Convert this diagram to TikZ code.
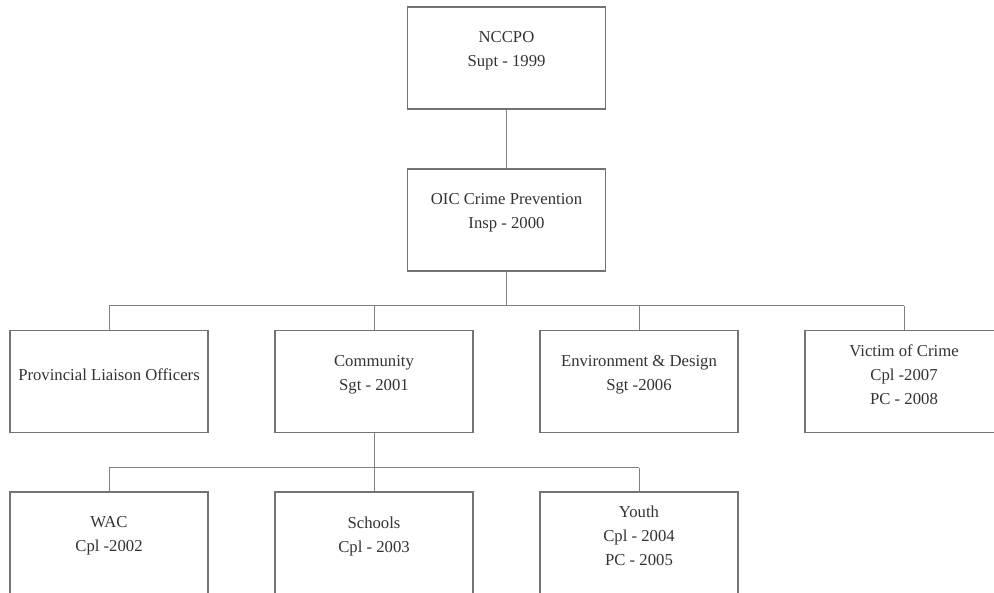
\documentclass[tikz,border=0pt]{standalone}
\usepackage{fontspec}
\setmainfont{Liberation Serif}
\begin{document}
\begin{tikzpicture}[x=1pt,y=-1pt,
  unitbox/.style={draw=black!55, line width=1.1pt, fill=white,
    minimum width=198pt, minimum height=102pt, inner sep=0pt},
  lbl/.style={align=center, text=black!80,
    font=\fontsize{16.7}{24}\selectfont, yshift=7pt},
  link/.style={draw=black!50, line width=1pt}]
\useasboundingbox (0,0) rectangle (994,593);
\begin{scope}
\clip (0,0) rectangle (994,593);

% top of the chain
\node[unitbox, label={[lbl]center:NCCPO\\Supt - 1999}] (nccpo) at (506.5,58) {};
\node[unitbox, label={[lbl]center:OIC Crime Prevention\\Insp - 2000}] (oic) at (506.5,220) {};

% sections
\node[unitbox, label={[lbl]center:Provincial Liaison Officers}] (pro) at (109,381.5) {};
\node[unitbox, label={[lbl]center:Community\\Sgt - 2001}] (com) at (374,381.5) {};
\node[unitbox, label={[lbl]center:Environment \& Design\\Sgt -2006}] (env) at (639,381.5) {};
\node[unitbox, label={[lbl]center:Victim of Crime\\Cpl -2007\\PC - 2008}] (vic) at (904,381.5) {};

% community units
\node[unitbox, label={[lbl]center:WAC\\Cpl -2002}] (wac) at (109,543) {};
\node[unitbox, label={[lbl]center:Schools\\Cpl - 2003}] (sch) at (374,543) {};
\node[unitbox, label={[lbl]center:Youth\\Cpl - 2004\\PC - 2005}] (you) at (639,543) {};

% connectors
\coordinate (busA) at (0,306);
\coordinate (busB) at (0,468);
\draw[link] (nccpo.south) -- (oic.north);
\draw[link] (oic.south) -- (oic.south |- busA);
\draw[link] (pro.north |- busA) -- (vic.north |- busA);
\foreach \n in {pro,com,env,vic}
  \draw[link] (\n.north) -- (\n.north |- busA);
\draw[link] (com.south) -- (com.south |- busB);
\draw[link] (wac.north |- busB) -- (you.north |- busB);
\foreach \n in {wac,sch,you}
  \draw[link] (\n.north) -- (\n.north |- busB);
\end{scope}
\end{tikzpicture}
\end{document}
